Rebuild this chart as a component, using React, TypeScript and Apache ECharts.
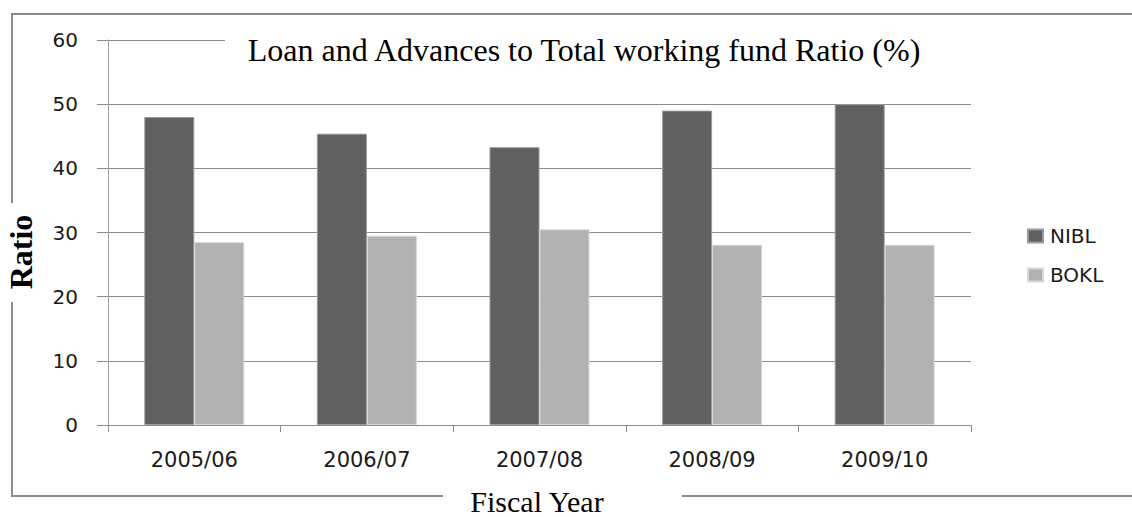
import React, { useEffect, useRef } from "react";
import * as echarts from "echarts";

const categories = ["2005/06", "2006/07", "2007/08", "2008/09", "2009/10"];
const nibl = [48.0, 45.4, 43.3, 49.0, 50.0];
const bokl = [28.5, 29.5, 30.5, 28.1, 28.1];
const seriesNames = ["NIBL", "BOKL"];
const titleText = "Loan and Advances to Total working fund Ratio (%)";
const xAxisTitle = "Fiscal Year";
const yAxisTitle = "Ratio";

export default function App() {
  const ref = useRef<HTMLDivElement>(null);
  useEffect(() => {
    if (!ref.current) return;
    const chart = echarts.init(ref.current, null, { renderer: "svg" });
    const frame = { stroke: "#8c8c8c", lineWidth: 2 };
    chart.setOption({
      animation: false,
      backgroundColor: "#ffffff",
      grid: { left: 108, right: 161, top: 40, bottom: 92 },
      legend: {
        orient: "vertical",
        left: 1022,
        top: 221,
        itemWidth: 15,
        itemHeight: 13,
        itemGap: 19,
        icon: "rect",
        textStyle: { fontFamily: "DejaVu Sans", fontSize: 20, color: "#1a1a1a", padding: [0, 0, 0, 2] },
        data: seriesNames,
      },
      xAxis: {
        type: "category",
        data: categories,
        axisLine: { show: true, lineStyle: { color: "#8c8c8c", width: 1 } },
        axisTick: { show: true, length: 7, lineStyle: { color: "#8c8c8c" } },
        axisLabel: { fontFamily: "DejaVu Sans", fontSize: 21, color: "#1a1a1a", margin: 24 },
      },
      yAxis: {
        type: "value",
        min: 0,
        max: 60,
        interval: 10,
        axisLine: { show: true, lineStyle: { color: "#a0a0a0", width: 1 } },
        axisTick: { show: true, length: 11, lineStyle: { color: "#8c8c8c" } },
        axisLabel: { fontFamily: "DejaVu Sans", fontSize: 20, color: "#1a1a1a", margin: 30 },
        splitLine: { show: true, lineStyle: { color: "#8c8c8c", width: 1 } },
      },
      series: [
        {
          name: seriesNames[0],
          type: "bar",
          data: nibl,
          barWidth: 50,
          barGap: "0%",
          itemStyle: { color: "#606060", borderColor: "#9a9a9a", borderWidth: 1 },
        },
        {
          name: seriesNames[1],
          type: "bar",
          data: bokl,
          barWidth: 50,
          barGap: "0%",
          itemStyle: { color: "#b2b2b2", borderColor: "#d8d8d8", borderWidth: 1 },
        },
      ],
      graphic: [
        { type: "line", z: 50, shape: { x1: 12, y1: 14, x2: 1132, y2: 14 }, style: frame },
        { type: "line", z: 50, shape: { x1: 12, y1: 13, x2: 12, y2: 203 }, style: frame },
        { type: "line", z: 50, shape: { x1: 12, y1: 302, x2: 12, y2: 497 }, style: frame },
        { type: "line", z: 50, shape: { x1: 12, y1: 496, x2: 443, y2: 496 }, style: frame },
        { type: "line", z: 50, shape: { x1: 682, y1: 496, x2: 1132, y2: 496 }, style: frame },
        { type: "rect", z: 60, shape: { x: 225, y: 26, width: 760, height: 40 }, style: { fill: "#ffffff" } },
        {
          type: "text",
          z: 70,
          x: 584,
          y: 50,
          style: {
            text: titleText,
            fontFamily: "Liberation Serif",
            fontSize: 32,
            fill: "#000000",
            align: "center",
            verticalAlign: "middle",
          },
        },
        {
          type: "text",
          z: 70,
          x: 537,
          y: 501,
          style: {
            text: xAxisTitle,
            fontFamily: "Liberation Serif",
            fontSize: 30,
            fill: "#000000",
            align: "center",
            verticalAlign: "middle",
          },
        },
        {
          type: "text",
          z: 70,
          x: 21,
          y: 252,
          rotation: Math.PI / 2,
          style: {
            text: yAxisTitle,
            fontFamily: "Liberation Serif",
            fontWeight: "bold",
            fontSize: 32,
            fill: "#000000",
            align: "center",
            verticalAlign: "middle",
          },
        },
      ],
    });
    return () => chart.dispose();
  }, []);
  return <div ref={ref} style={{ width: 1132, height: 517, position: "absolute", left: 0, top: 0 }} />;
}
